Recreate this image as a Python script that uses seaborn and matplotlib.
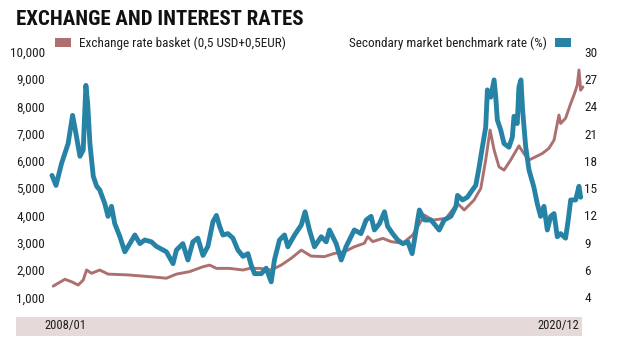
import matplotlib
matplotlib.use("Agg")
import matplotlib.pyplot as plt
import seaborn as sns
import pandas as pd
from matplotlib import font_manager
from matplotlib.patches import Patch, Rectangle

# ---------------- data ----------------
basket_dates = [
    "2008-01-12", "2008-04-25", "2008-06-24", "2008-08-22", "2008-10-06", "2008-11-05",
    "2008-12-20", "2009-03-03", "2009-05-16", "2009-11-12", "2010-06-08", "2010-10-20",
    "2011-01-18", "2011-05-15", "2011-09-12", "2011-11-11", "2012-01-10", "2012-05-07",
    "2012-09-04", "2012-11-02", "2013-02-01", "2013-05-14", "2013-08-11", "2013-11-09",
    "2014-02-07", "2014-05-06", "2014-09-02", "2014-12-01", "2015-02-28", "2015-05-27",
    "2015-08-25", "2015-09-24", "2015-11-08", "2016-02-06", "2016-04-20", "2016-08-02",
    "2016-10-30", "2017-02-13", "2017-04-25", "2017-08-23", "2017-12-05", "2018-02-03",
    "2018-05-01", "2018-07-01", "2018-08-14", "2018-09-22", "2018-10-28", "2018-12-11",
    "2019-01-25", "2019-03-25", "2019-06-07", "2019-07-21", "2019-09-05", "2019-11-04",
    "2020-01-02", "2020-03-01", "2020-04-16", "2020-05-30", "2020-06-14", "2020-07-28",
    "2020-09-12", "2020-10-11", "2020-11-10", "2020-11-25", "2020-12-10", "2020-12-30",
]
basket_values = [
    1410, 1660, 1570, 1450, 1630, 2000,
    1880, 2000, 1850, 1820, 1750, 1700,
    1850, 1940, 2120, 2180, 2060, 2060,
    2000, 2060, 2060, 2000, 2180, 2430,
    2730, 2510, 2490, 2610, 2670, 2850,
    2980, 3220, 3040, 3160, 3040, 2980,
    3280, 4010, 3830, 3890, 4440, 4200,
    4560, 4990, 6030, 7130, 6400, 5780,
    5660, 6030, 6550, 6270, 6030, 6150,
    6270, 6460, 6760, 7680, 7370, 7560,
    8100, 8410, 8780, 9330, 8590, 8710,
]

rate_dates = [
    "2008-01-01", "2008-02-06", "2008-03-26", "2008-05-24", "2008-07-03", "2008-07-23",
    "2008-09-07", "2008-10-06", "2008-10-30", "2008-11-15", "2008-12-05", "2009-01-04",
    "2009-02-04", "2009-03-03", "2009-04-17", "2009-05-16", "2009-06-16", "2009-07-15",
    "2009-08-29", "2009-10-13", "2009-11-27", "2010-01-11", "2010-02-25", "2010-04-09",
    "2010-06-08", "2010-07-22", "2010-10-20", "2010-12-18", "2011-01-18", "2011-03-16",
    "2011-04-30", "2011-06-14", "2011-07-28", "2011-09-12", "2011-10-26", "2011-12-10",
    "2012-01-10", "2012-02-08", "2012-03-08", "2012-04-22", "2012-06-06", "2012-07-20",
    "2012-09-04", "2012-10-18", "2012-11-17", "2012-12-16", "2013-02-15", "2013-03-30",
    "2013-05-14", "2013-06-12", "2013-07-27", "2013-09-10", "2013-10-10", "2013-12-09",
    "2014-02-07", "2014-03-13", "2014-04-21", "2014-06-05", "2014-08-04", "2014-09-18",
    "2014-10-17", "2014-12-16", "2015-01-30", "2015-03-14", "2015-05-27", "2015-07-26",
    "2015-09-10", "2015-10-24", "2015-11-23", "2016-01-07", "2016-02-21", "2016-03-20",
    "2016-05-04", "2016-06-18", "2016-08-02", "2016-09-16", "2016-10-25", "2016-11-15",
    "2016-12-14", "2016-12-29", "2017-02-13", "2017-04-12", "2017-06-24", "2017-08-08",
    "2017-10-07", "2017-11-21", "2017-12-05", "2018-01-19", "2018-03-03", "2018-04-17",
    "2018-05-17", "2018-06-16", "2018-07-15", "2018-08-14", "2018-08-29", "2018-09-28",
    "2018-10-28", "2018-11-12", "2018-11-26", "2018-12-26", "2019-01-25", "2019-03-10",
    "2019-04-09", "2019-04-24", "2019-05-23", "2019-06-07", "2019-06-25", "2019-07-10",
    "2019-08-06", "2019-09-05", "2019-10-19", "2019-11-18", "2019-12-18", "2020-01-17",
    "2020-02-16", "2020-03-17", "2020-04-16", "2020-05-15", "2020-06-14", "2020-07-28",
    "2020-08-21", "2020-09-12", "2020-10-26", "2020-11-25", "2020-12-10",
]
rate_values = [
    16.4, 15.3, 17.7, 19.9, 23.0, 21.7,
    18.5, 19.2, 26.3, 24.3, 19.9, 16.3,
    15.2, 14.8, 13.3, 11.9, 13.0, 11.1,
    9.7, 8.0, 8.9, 9.85, 8.9, 9.3,
    9.1, 8.6, 8.0, 6.7, 8.2, 8.9,
    7.1, 9.1, 9.5, 7.6, 8.6, 11.3,
    12.0, 10.8, 9.85, 10.0, 9.5, 8.2,
    7.5, 7.8, 6.5, 5.6, 5.6, 6.2,
    4.7, 7.1, 9.3, 9.85, 8.55, 9.85,
    10.95, 12.4, 10.4, 8.55, 9.66, 9.1,
    10.4, 8.9, 7.1, 8.55, 10.4, 10.0,
    11.5, 11.9, 10.4, 11.1, 12.4, 10.8,
    10.0, 9.3, 8.9, 9.1, 7.8, 9.3,
    11.5, 12.6, 11.5, 11.5, 10.4, 11.5,
    11.9, 13.0, 14.2, 13.7, 14.0, 14.8,
    15.3, 17.3, 19.5, 21.7, 25.8, 25.0,
    26.9, 25.0, 22.5, 21.4, 19.9, 19.5,
    20.6, 22.9, 22.1, 26.1, 26.9, 23.6,
    19.6, 17.0, 15.1, 13.3, 11.9, 13.0,
    10.4, 11.9, 12.2, 9.66, 10.0, 9.5,
    11.5, 13.7, 13.7, 15.2, 14.0,
]

left_ticks = [1000, 2000, 3000, 4000, 5000, 6000, 7000, 8000, 9000, 10000]
left_labels = ["1,000", "2,000", "3,000", "4,000", "5,000",
               "6,000", "7,000", "8,000", "9,000", "10,000"]
right_ticks = [3, 6, 9, 12, 15, 18, 21, 24, 27, 30]
right_labels = ["4", "6", "9", "12", "15", "18", "21", "24", "27", "30"]
x_labels = ["2008/01", "2020/12"]
title = "EXCHANGE AND INTEREST RATES"
legend_left = "Exchange rate basket (0,5 USD+0,5EUR)"
legend_right = "Secondary market benchmark rate (%)"

# ---------------- style ----------------
BROWN = "#AC7070"
TEAL = "#2683A6"
BAND = "#E6DAD8"
TXT = "#1E1E1E"

sns.set_theme(style="white")
names = {f.name for f in font_manager.fontManager.ttflist}
cond = "DejaVu Sans"
for cand in ["Roboto Condensed", "Liberation Sans Narrow", "Open Sans Condensed",
             "Noto Sans Condensed"]:
    if cand in names:
        cond = cand
        break
plt.rcParams["font.family"] = [cond, "DejaVu Sans"]
plt.rcParams["font.stretch"] = "condensed"

W, H = 617, 349
fig = plt.figure(figsize=(W / 100, H / 100), dpi=100)
fig.patch.set_facecolor("white")

y_top, y_bot = 51.7, 297.3
x_l, x_r = 52, 583
ax = fig.add_axes([x_l / W, (H - y_bot) / H, (x_r - x_l) / W, (y_bot - y_top) / H])
ax.set_facecolor("none")

df_b = pd.DataFrame({"date": pd.to_datetime(basket_dates), "v": basket_values})
df_r = pd.DataFrame({"date": pd.to_datetime(rate_dates), "v": rate_values})

sns.lineplot(data=df_b, x="date", y="v", ax=ax, color=BROWN, lw=2.1, clip_on=False)
ax2 = ax.twinx()
sns.lineplot(data=df_r, x="date", y="v", ax=ax2, color=TEAL, lw=3.5, clip_on=False)

xmin, xmax = pd.Timestamp("2008-01-01"), pd.Timestamp("2020-12-31")
for a in (ax, ax2):
    a.set_xlim(xmin, xmax)
    a.set_xlabel("")
    a.set_ylabel("")
    a.set_xticks([])
    a.grid(False)
    for s in a.spines.values():
        s.set_visible(False)

ax.set_ylim(1000, 10000)
ax.set_yticks(left_ticks)
ax.set_yticklabels(left_labels)
ax.tick_params(axis="y", length=0, pad=5, labelsize=9.5, labelcolor=TXT)

ax2.set_ylim(3, 30)
ax2.set_yticks(right_ticks)
ax2.set_yticklabels(right_labels)
ax2.tick_params(axis="y", length=0, pad=1, labelsize=9.5, labelcolor=TXT)

# title
fig.text(16 / W, 1 - 19.5 / H, title, fontsize=15, fontweight="bold",
         color="#111111", va="center", ha="left")

# legends
h_b = Patch(facecolor=BROWN, edgecolor="none")
h_r = Patch(facecolor=TEAL, edgecolor="none")
leg_kw = dict(frameon=False, fontsize=9.5, handlelength=1.2, handleheight=0.6,
              handletextpad=0.65, borderpad=0, borderaxespad=0,
              labelcolor=TXT)
leg1 = fig.legend([h_b], [legend_left], loc="center left",
                  bbox_to_anchor=(55 / W, 1 - 43.5 / H), **leg_kw)
leg2 = fig.legend([h_r], [legend_right], loc="center right", markerfirst=False,
                  bbox_to_anchor=(571 / W, 1 - 43.5 / H), **leg_kw)

# bottom band with period labels
fig.patches.append(Rectangle((16 / W, 1 - 335.5 / H), (582 - 16) / W, 19 / H,
                             transform=fig.transFigure, facecolor=BAND,
                             edgecolor="none", zorder=0))
fig.text(65.5 / W, 1 - 326 / H, x_labels[0], fontsize=9, color=TXT,
         ha="center", va="center")
fig.text(579 / W, 1 - 326 / H, x_labels[1], fontsize=9, color=TXT,
         ha="right", va="center")

fig.savefig("out.png", dpi=100)
